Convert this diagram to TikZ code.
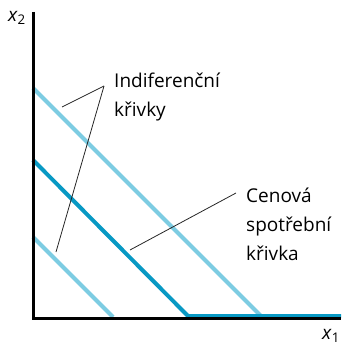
\documentclass[tikz,border=0pt]{standalone}
\usepackage{fontspec}
\setmainfont{Open Sans}
\definecolor{lightc}{RGB}{125,204,226}
\definecolor{darkc}{RGB}{8,153,196}
\begin{document}
\begin{tikzpicture}[x=1pt,y=-1pt,
  curve/.style={line width=4pt,lightc},
  pcc/.style={line width=4pt,darkc},
  axis/.style={line width=3pt,black},
  leader/.style={line width=0.8pt,black!85},
  lbl/.style={anchor=west,inner sep=0pt,font=\fontsize{19}{29}\selectfont,align=left}]
\useasboundingbox (0,0) rectangle (342,345);
% curves
\coordinate (u1) at (33,88); \coordinate (u2) at (262,317);
\coordinate (m1) at (33,160); \coordinate (m2) at (188,316); \coordinate (m3) at (341,316);
\coordinate (l1) at (33,237); \coordinate (l2) at (113,317);
\draw[curve] (u1) -- (u2);
\draw[curve] (l1) -- (l2);
\draw[pcc] (m1) -- (m2) -- (m3);
% axes
\coordinate (o) at (33,318); \coordinate (yt) at (33,12); \coordinate (xt) at (341,318);
\draw[axis] (yt) -- (o) -- (xt);
\node[inner sep=0pt,font=\fontsize{19}{19}\selectfont] (x2) at (17,18) {\textit{x}\textsubscript{2}};
\node[inner sep=0pt,font=\fontsize{19}{19}\selectfont] (x1) at (331,336) {\textit{x}\textsubscript{1}};
% labels
\node[lbl] (ind) at (114,97) {Indiferenční\\křivky};
\node[lbl] (cen) at (246,224) {Cenová\\spotřební\\křivka};
\coordinate (a) at (104,86);
\coordinate (au) at (62,107);
\coordinate (al) at (56,252);
\draw[leader] (a) -- (au);
\draw[leader] (a) -- (al);
\coordinate (b) at (236,193);
\coordinate (bm) at (130,250);
\draw[leader] (b) -- (bm);
\end{tikzpicture}
\end{document}
